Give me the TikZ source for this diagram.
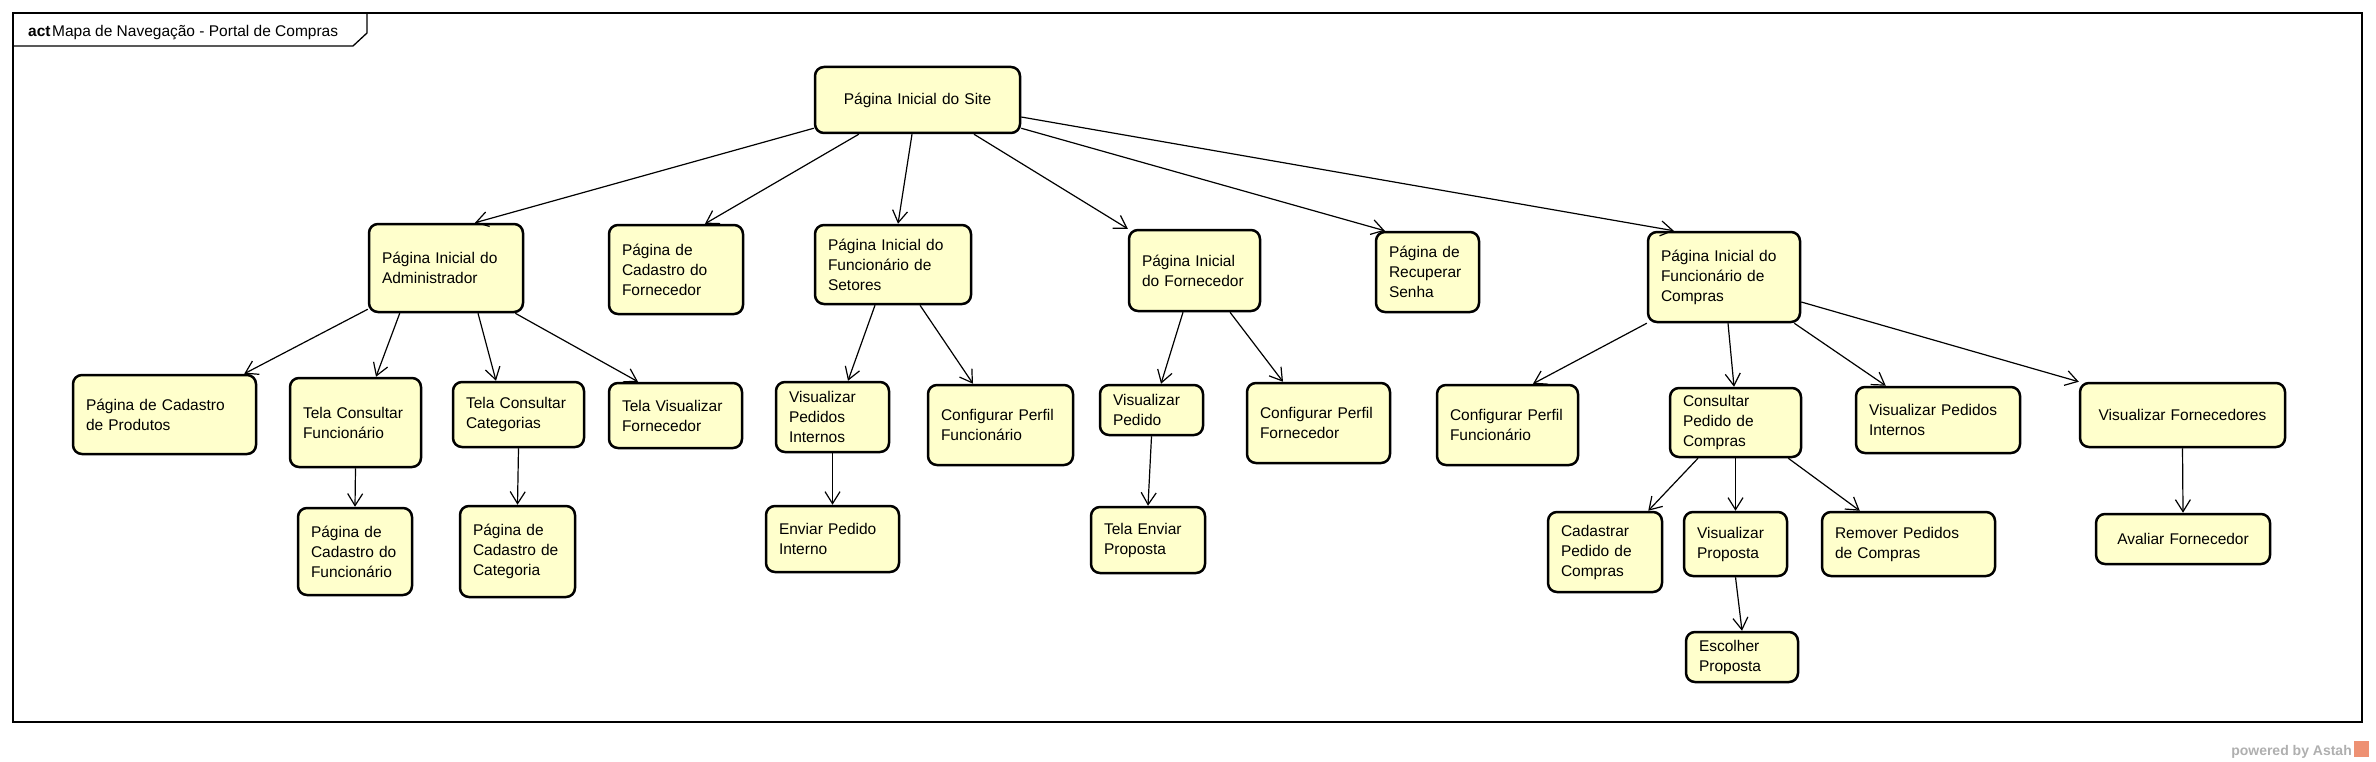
\documentclass[tikz,border=0pt]{standalone}
\usepackage{fontspec}
\setmainfont{Liberation Sans}
\usetikzlibrary{arrows.meta}
\definecolor{amarelo}{RGB}{255,255,204}
\definecolor{cinza}{RGB}{175,175,175}
\definecolor{laranja}{RGB}{238,145,115}
\tikzset{
    pagina/.style 2 args={draw=black, line width=2.5pt, rounded corners=9pt, fill=amarelo,
        align=left, inner xsep=13pt, inner ysep=0pt, text width=#1, minimum height=#2,
        font=\fontsize{15.5}{20}\selectfont},
    seta/.style={line width=1.2pt, -{Straight Barb[length=12pt, width=15pt]}},
}
\begin{document}
\begin{tikzpicture}[x=1pt, y=-1pt]
    \useasboundingbox (0,0) rectangle (2376,762);
    % frame
    \draw[line width=1.3pt] (13,13) rectangle (2362,722);
    \draw[line width=1.3pt] (13,46) -- (353,46) -- (367,33) -- (367,13);
    \node[anchor=base west, inner sep=0pt, font=\fontsize{15.5}{20}\selectfont] (titulo) at (28,37)
        {\textbf{act}\hspace{1.5pt}Mapa de Navegação - Portal de Compras};
    % pages, level 1 and 2
    \node[pagina={179pt}{66pt}, align=center] (site) at (917.5,100) {Página Inicial do Site};
    \node[pagina={128pt}{88pt}] (adm) at (446,268) {Página Inicial do\\Administrador};
    \node[pagina={108pt}{89pt}] (cadforn) at (676,269.5) {Página de\\Cadastro do\\Fornecedor};
    \node[pagina={130pt}{79pt}] (funcset) at (893,264.5) {Página Inicial do\\Funcionário de\\Setores};
    \node[pagina={105pt}{81pt}] (forn) at (1194.5,270.5) {Página Inicial\\do Fornecedor};
    \node[pagina={77pt}{80pt}] (recup) at (1427.5,272) {Página de\\Recuperar\\Senha};
    \node[pagina={126pt}{90pt}] (funccomp) at (1724,277) {Página Inicial do\\Funcionário de\\Compras};
    % level 3
    \node[pagina={157pt}{79pt}] (cadprod) at (164.5,414.5) {Página de Cadastro\\de Produtos};
    \node[pagina={105pt}{89pt}] (telafunc) at (355.5,422.5) {Tela Consultar\\Funcionário};
    \node[pagina={105pt}{65pt}] (telacat) at (518.5,414.5) {Tela Consultar\\Categorias};
    \node[pagina={107pt}{65pt}] (telaforn) at (675.5,415.5) {Tela Visualizar\\Fornecedor};
    \node[pagina={87pt}{70pt}] (vispedint) at (832.5,417) {Visualizar\\Pedidos\\Internos};
    \node[pagina={119pt}{80pt}] (cfgfunc) at (1000.5,425) {Configurar Perfil\\Funcionário};
    \node[pagina={77pt}{50pt}] (vispedido) at (1151.5,410) {Visualizar\\Pedido};
    \node[pagina={117pt}{80pt}] (cfgforn) at (1318.5,423) {Configurar Perfil\\Fornecedor};
    \node[pagina={115pt}{80pt}] (cfgfunc2) at (1507.5,425) {Configurar Perfil\\Funcionário};
    \node[pagina={105pt}{69pt}] (consped) at (1735.5,422.5) {Consultar\\Pedido de\\Compras};
    \node[pagina={138pt}{66pt}] (vispedint2) at (1938,420) {Visualizar Pedidos\\Internos};
    \node[pagina={179pt}{64pt}, align=center] (visforn) at (2182.5,415) {Visualizar Fornecedores};
    % level 4 and 5
    \node[pagina={88pt}{87pt}] (cadfunc) at (355,551.5) {Página de\\Cadastro do\\Funcionário};
    \node[pagina={89pt}{91pt}] (cadcat) at (517.5,551.5) {Página de\\Cadastro de\\Categoria};
    \node[pagina={107pt}{66pt}] (enviar) at (832.5,539) {Enviar Pedido\\Interno};
    \node[pagina={88pt}{66pt}] (envprop) at (1148,540) {Tela Enviar\\Proposta};
    \node[pagina={88pt}{80pt}] (cadped) at (1605,552) {Cadastrar\\Pedido de\\Compras};
    \node[pagina={77pt}{64pt}] (visprop) at (1735.5,544) {Visualizar\\Proposta};
    \node[pagina={147pt}{64pt}] (remped) at (1908.5,544) {Remover Pedidos\\de Compras};
    \node[pagina={148pt}{50pt}, align=center] (avaliar) at (2183,539) {Avaliar Fornecedor};
    \node[pagina={86pt}{50pt}] (escolher) at (1742,657) {Escolher\\Proposta};
    % transitions from the site
    \draw[seta] ([yshift=6pt]site.south west) -- ([xshift=29pt]adm.north);
    \draw[seta] ([xshift=45pt]site.south west) -- ([xshift=29pt]cadforn.north);
    \draw[seta] ([xshift=-5.5pt]site.south) -- ([xshift=5pt]funcset.north);
    \draw[seta] ([xshift=56.5pt]site.south) -- (forn.north west);
    \draw[seta] ([yshift=6pt]site.south east) -- ([xshift=10pt]recup.north west);
    \draw[seta] ([yshift=-17pt]site.east) -- ([xshift=27pt]funccomp.north west);
    % transitions of level 2
    \draw[seta] ([yshift=4pt]adm.south west) -- ([xshift=-13pt]cadprod.north east);
    \draw[seta] ([xshift=32pt]adm.south west) -- ([xshift=20.5pt]telafunc.north);
    \draw[seta] ([xshift=32pt]adm.south) -- ([xshift=-22.5pt]telacat.north);
    \draw[seta] ([xshift=-9pt]adm.south east) -- ([xshift=-37.5pt]telaforn.north);
    \draw[seta] ([xshift=-18pt]funcset.south) -- ([xshift=15.5pt]vispedint.north);
    \draw[seta] ([xshift=27pt]funcset.south) -- ([xshift=-27.5pt]cfgfunc.north);
    \draw[seta] ([xshift=-11.5pt]forn.south) -- ([xshift=9.5pt]vispedido.north);
    \draw[seta] ([xshift=35.5pt]forn.south) -- ([xshift=-35.5pt]cfgforn.north);
    \draw[seta] (funccomp.south west) -- ([xshift=25.5pt]cfgfunc2.north);
    \draw[seta] ([xshift=4pt]funccomp.south) -- ([xshift=-1.5pt]consped.north);
    \draw[seta] ([xshift=-7pt]funccomp.south east) -- ([xshift=31pt]vispedint2.north west);
    \draw[seta] ([yshift=-25pt]funccomp.east) -- (visforn.north west);
    \draw[seta] ([xshift=-37.5pt]consped.south) -- ([xshift=-15pt]cadped.north east);
    \draw[seta] ([xshift=-14pt]consped.south east) -- ([xshift=39pt]remped.north west);
    % straight down
    \foreach \De/\Para in {telafunc/cadfunc, telacat/cadcat, vispedint/enviar, vispedido/envprop,
        consped/visprop, visprop/escolher, visforn/avaliar}
    \draw[seta] (\De.south) -- (\Para.north);
    % footer
    \node[anchor=base east, inner sep=0pt, text=cinza, font=\fontsize{14}{16}\selectfont\bfseries] (astah) at (2352,755) {powered by Astah};
    \fill[laranja] (2354,741) rectangle (2369,757);
\end{tikzpicture}
\end{document}
